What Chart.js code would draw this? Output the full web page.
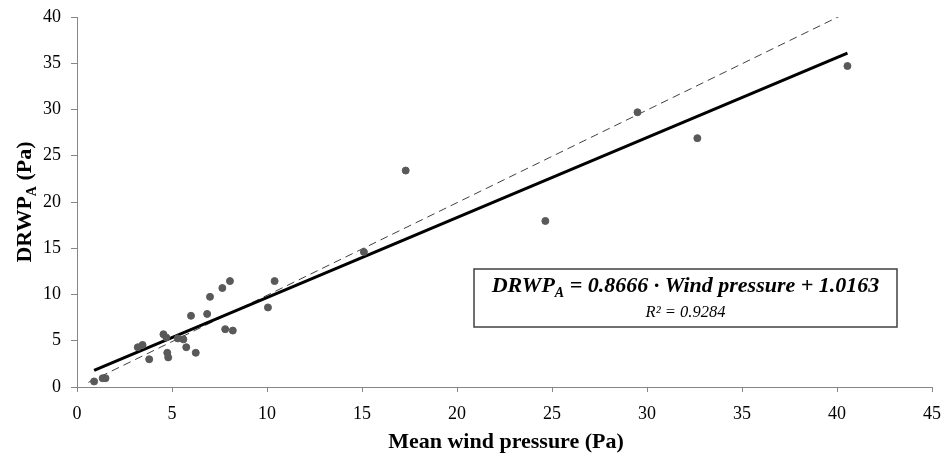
<!DOCTYPE html>
<html>
<head>
<meta charset="utf-8">
<script src="https://cdn.jsdelivr.net/npm/chart.js@4/dist/chart.umd.min.js"></script>
<style>
  html, body { margin: 0; padding: 0; background: #fff; }
  #wrap { width: 947px; height: 464px; }
</style>
</head>
<body>
<div id="wrap"><canvas id="chart" width="947" height="464"></canvas></div>
<script>
// measured points: mean wind pressure (Pa) vs DRWP_A (Pa)
let windPressure = [0.9, 1.35, 1.5, 3.2, 3.45, 3.8, 4.55, 4.7, 4.75, 4.8, 5.3, 5.6, 5.75, 6.0, 6.25,
                    6.85, 7.0, 7.65, 7.8, 8.05, 8.2, 10.05, 10.4, 15.1, 17.3, 24.65, 29.5, 32.65, 40.55];
let drwpA = [0.6, 0.95, 0.95, 4.3, 4.55, 3.0, 5.7, 5.35, 3.7, 3.2, 5.25, 5.15, 4.3, 7.7, 3.7,
             7.9, 9.75, 10.7, 6.25, 11.45, 6.1, 8.6, 11.45, 14.6, 23.4, 17.95, 29.7, 26.9, 34.7];

// linear trend line end points (as drawn)
let trendX = [0.9, 40.55];
let trendY = [1.8, 36.1];

// 1:1 reference line end points
let oneToOneX = [0.6, 40.25];
let oneToOneY = [0.5, 40.2];

let xTicks = [0, 5, 10, 15, 20, 25, 30, 35, 40, 45];
let yTicks = [0, 5, 10, 15, 20, 25, 30, 35, 40];

let equationText = "DRWP";
let equationSub = "A";
let equationRest = " = 0.8666 · Wind pressure + 1.0163";
let rSquaredText = "R² = 0.9284";

let serif = "'Liberation Serif', 'Times New Roman', serif";
let axisGray = "#868686";

function toPoints(xs, ys) {
    return xs.map((x, i) => ({ x: x, y: ys[i] }));
}

let extrasPlugin = {
    id: "extras",
    afterDraw(chart) {
        let ctx = chart.ctx;
        let area = chart.chartArea;
        ctx.save();
        ctx.fillStyle = "#000";

        // y axis title with subscript, rotated
        ctx.save();
        ctx.translate(25, (area.top + area.bottom) / 2);
        ctx.rotate(-Math.PI / 2);
        ctx.textBaseline = "middle";
        let bold = "bold 22px " + serif;
        let boldSub = "bold 14px " + serif;
        ctx.font = bold;
        let w1 = ctx.measureText("DRWP").width;
        let w3 = ctx.measureText(" (Pa)").width;
        ctx.font = boldSub;
        let w2 = ctx.measureText("A").width;
        let start = -(w1 + w2 + w3) / 2;
        ctx.font = bold;
        ctx.textAlign = "left";
        ctx.fillText("DRWP", start, 0);
        ctx.font = boldSub;
        ctx.fillText("A", start + w1, 7);
        ctx.font = bold;
        ctx.fillText(" (Pa)", start + w1 + w2, 0);
        ctx.restore();

        // x axis title
        ctx.font = "bold 22px " + serif;
        ctx.textAlign = "center";
        ctx.textBaseline = "middle";
        ctx.fillText("Mean wind pressure (Pa)", 506, 442);

        // equation box
        let bx = 474, by = 269, bw = 423, bh = 58;
        ctx.fillStyle = "#fff";
        ctx.fillRect(bx, by, bw, bh);
        ctx.strokeStyle = "#404040";
        ctx.lineWidth = 1.5;
        ctx.strokeRect(bx, by, bw, bh);

        ctx.fillStyle = "#000";
        let eqFont = "italic bold 22px " + serif;
        let eqSub = "italic bold 14px " + serif;
        ctx.font = eqFont;
        let e1 = ctx.measureText(equationText).width;
        let e3 = ctx.measureText(equationRest).width;
        ctx.font = eqSub;
        let e2 = ctx.measureText(equationSub).width;
        let cx = bx + bw / 2;
        let ex = cx - (e1 + e2 + e3) / 2;
        ctx.textAlign = "left";
        ctx.font = eqFont;
        ctx.fillText(equationText, ex, 286);
        ctx.font = eqSub;
        ctx.fillText(equationSub, ex + e1, 293);
        ctx.font = eqFont;
        ctx.fillText(equationRest, ex + e1 + e2, 286);

        ctx.font = "italic 16.5px " + serif;
        ctx.textAlign = "center";
        ctx.fillText(rSquaredText, cx, 313);
        ctx.restore();
    }
};

new Chart("chart", {
    type: "scatter",
    data: {
        datasets: [
            {
                label: "Measured",
                data: toPoints(windPressure, drwpA),
                backgroundColor: "#595959",
                borderColor: "#595959",
                pointRadius: 3.5,
                pointHoverRadius: 3.5,
                order: 0
            },
            {
                label: "Trend",
                type: "line",
                data: toPoints(trendX, trendY),
                borderColor: "#000",
                borderWidth: 3,
                pointRadius: 0,
                fill: false,
                order: 1
            },
            {
                label: "1:1",
                type: "line",
                data: toPoints(oneToOneX, oneToOneY),
                borderColor: "#404040",
                borderWidth: 1,
                borderDash: [8, 5],
                pointRadius: 0,
                fill: false,
                order: 2
            }
        ]
    },
    options: {
        responsive: false,
        animation: false,
        layout: { padding: { top: 17, right: 15, left: 0, bottom: 0 } },
        plugins: {
            legend: { display: false },
            tooltip: { enabled: false }
        },
        scales: {
            x: {
                type: "linear",
                min: 0,
                max: 45,
                afterBuildTicks: (scale) => { scale.ticks = xTicks.map(v => ({ value: v })); },
                afterFit: (scale) => {
                    scale.height = 77;
                    scale.paddingLeft = 0;
                    scale.paddingRight = 0;
                },
                border: { color: axisGray, width: 1 },
                grid: { drawOnChartArea: false, color: axisGray, tickLength: 5 },
                ticks: {
                    color: "#000",
                    font: { family: serif, size: 18 },
                    padding: 11,
                    maxRotation: 0
                }
            },
            y: {
                type: "linear",
                min: 0,
                max: 40,
                afterBuildTicks: (scale) => { scale.ticks = yTicks.map(v => ({ value: v })); },
                afterFit: (scale) => {
                    scale.width = 77;
                    scale.paddingTop = 0;
                    scale.paddingBottom = 0;
                },
                border: { color: axisGray, width: 1 },
                grid: { drawOnChartArea: false, color: axisGray, tickLength: 6 },
                ticks: {
                    color: "#000",
                    font: { family: serif, size: 18 },
                    padding: 10
                }
            }
        }
    },
    plugins: [extrasPlugin]
});
</script>
</body>
</html>
